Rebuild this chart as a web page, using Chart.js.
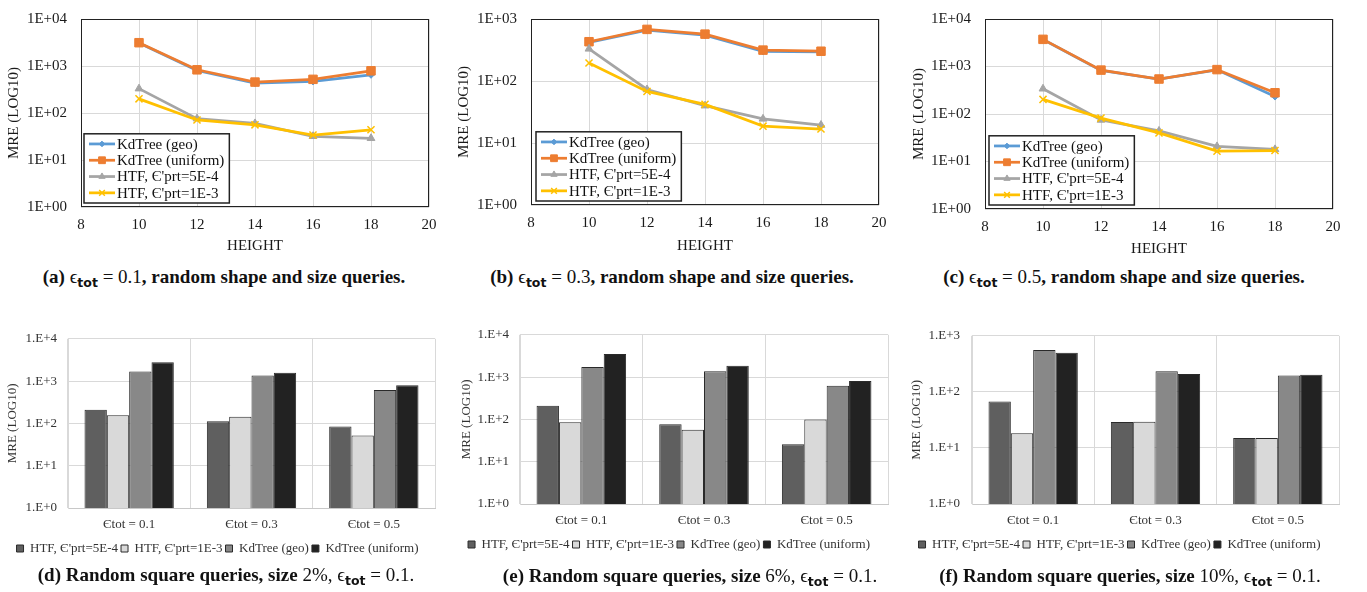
<!DOCTYPE html>
<html>
<head>
<meta charset="utf-8">
<script src="https://cdn.jsdelivr.net/npm/chart.js@4.4.1/dist/chart.umd.min.js"></script>
<style>
  body { margin: 0; background: #fff; width: 1367px; height: 592px; position: relative; overflow: hidden; font-family: "Liberation Serif", serif; }
  canvas { position: absolute; }
  .cap { position: absolute; white-space: nowrap; font-size: 19px; line-height: 22px; color: #111; transform: translateX(-50%); }
  .cap b { font-weight: bold; }
  .cap sub { font-family: "DejaVu Sans", sans-serif; font-weight: bold; font-size: 12.5px; vertical-align: -4px; line-height: 0; }
</style>
</head>
<body>
<canvas id="chartA" width="450" height="266" style="left:0;top:-4px"></canvas>
<canvas id="chartB" width="450" height="266" style="left:450px;top:-4px"></canvas>
<canvas id="chartC" width="467" height="266" style="left:900px;top:-4px"></canvas>
<canvas id="chartD" width="450" height="245" style="left:0;top:320px"></canvas>
<canvas id="chartE" width="450" height="245" style="left:450px;top:316px"></canvas>
<canvas id="chartF" width="467" height="245" style="left:900px;top:316px"></canvas>

<div class="cap" style="left:224px;top:266px"><b>(a) </b>ϵ<sub>tot</sub> = 0.1<b>, random shape and size queries.</b></div>
<div class="cap" style="left:672px;top:266px"><b>(b) </b>ϵ<sub>tot</sub> = 0.3<b>, random shape and size queries.</b></div>
<div class="cap" style="left:1124px;top:266px"><b>(c) </b>ϵ<sub>tot</sub> = 0.5<b>, random shape and size queries.</b></div>
<div class="cap" style="left:226px;top:564px"><b>(d) Random square queries, size </b>2%, ϵ<sub>tot</sub> = 0.1.</div>
<div class="cap" style="left:690px;top:565px"><b>(e) Random square queries, size </b>6%, ϵ<sub>tot</sub> = 0.1.</div>
<div class="cap" style="left:1130px;top:565px"><b>(f) Random square queries, size </b>10%, ϵ<sub>tot</sub> = 0.1.</div>

<script>
// ---- data: line charts (MRE vs tree height) ----
const heightTicks = [10, 12, 14, 16, 18];
const lineSeries = ['KdTree (geo)', 'KdTree (uniform)', "HTF, Є'prt=5E-4", "HTF, Є'prt=1E-3"];

// (a) eps_tot = 0.1
const geoA = [3100, 800, 430, 470, 650];
const uniformA = [3130, 830, 455, 520, 790];
const htf5A = [330, 76, 60, 32, 29];
const htf1A = [200, 71, 56, 34, 44];

// (b) eps_tot = 0.3
const geoB = [420, 660, 550, 300, 296];
const uniformB = [430, 680, 570, 315, 302];
const htf5B = [330, 73, 40, 24.5, 19.5];
const htf1B = [195, 68, 42, 18.7, 16.8];

// (c) eps_tot = 0.5
const geoC = [3700, 830, 540, 850, 233];
const uniformC = [3730, 840, 545, 860, 280];
const htf5C = [340, 75, 44, 20.8, 18];
const htf1C = [203, 82, 40, 16.5, 17];

// ---- data: bar charts (random square queries) ----
const epsLabels = ['Єtot = 0.1', 'Єtot = 0.3', 'Єtot = 0.5'];
const barSeries = ["HTF, Є'prt=5E-4", "HTF, Є'prt=1E-3", 'KdTree (geo)', 'KdTree (uniform)'];

// (d) size 2%
const htf5D = [211, 113, 84];
const htf1D = [156, 143, 52];
const geoD = [1690, 1365, 614];
const uniformD = [2780, 1573, 800];

// (e) size 6%
const htf5E = [209, 77, 25.7];
const htf1E = [86, 57, 99];
const geoE = [1726, 1370, 628];
const uniformE = [3510, 1853, 805];

// (f) size 10%
const htf5F = [67, 29, 15.1];
const htf1F = [18.2, 29.4, 15.1];
const geoF = [557, 234, 195];
const uniformF = [500, 208, 202];

// ---- styles ----
const lineStyles = [
  {color: '#5b9bd5', point: 'rectRot', radius: 3.5, pbw: 1},
  {color: '#ed7d31', point: 'rect', radius: 6, pbw: 1},
  {color: '#a5a5a5', point: 'triangle', radius: 4.5, pbw: 1},
  {color: '#ffc000', point: 'crossRot', radius: 5, pbw: 1.5}
];
const barColors = ['#5f5f5f', '#d9d9d9', '#888888', '#222222'];
const gridColor = '#d9d9d9';

Chart.defaults.font.family = '"Liberation Serif", "Times New Roman", serif';
Chart.defaults.color = '#1a1a1a';

function decadeTicks(max) {
  return function (axis) {
    axis.ticks = [];
    for (let v = 1; v <= max; v *= 10) axis.ticks.push({value: v});
  };
}

// black frame round the plot area of the line charts
const frame = {
  id: 'frame',
  beforeDatasetsDraw(chart) {
    const a = chart.chartArea, ctx = chart.ctx;
    ctx.save();
    ctx.strokeStyle = '#222';
    ctx.lineWidth = 1;
    ctx.strokeRect(a.left + 0.5, a.top + 0.5, a.width - 1, a.height - 1);
    ctx.restore();
  }
};

// boxed legend in the lower left corner of the plot area
const insideLegend = {
  id: 'insideLegend',
  afterDatasetsDraw(chart, args, opts) {
    const ctx = chart.ctx, area = chart.chartArea;
    const sets = chart.data.datasets;
    ctx.save();
    ctx.font = '15px "Liberation Serif"';
    let textW = 0;
    sets.forEach(function (d) { textW = Math.max(textW, ctx.measureText(d.label).width); });
    const w = 33 + textW + 5, h = sets.length * opts.rowHeight + 4;
    const x0 = area.left + opts.dx, y0 = area.bottom - opts.dy - h;
    ctx.fillStyle = '#fff';
    ctx.fillRect(x0, y0, w, h);
    ctx.strokeStyle = '#222';
    ctx.lineWidth = 1.5;
    ctx.strokeRect(x0, y0, w, h);
    sets.forEach(function (d, i) {
      const cy = y0 + 2 + opts.rowHeight * (i + 0.5);
      ctx.strokeStyle = d.borderColor;
      ctx.lineWidth = d.borderWidth;
      ctx.beginPath();
      ctx.moveTo(x0 + 5, cy);
      ctx.lineTo(x0 + 31, cy);
      ctx.stroke();
      ctx.fillStyle = d.pointBackgroundColor;
      ctx.strokeStyle = d.pointBorderColor;
      ctx.lineWidth = d.pointBorderWidth;
      Chart.helpers.drawPoint(ctx, {pointStyle: d.pointStyle, radius: d.pointRadius * 0.8, borderWidth: d.pointBorderWidth, rotation: 0}, x0 + 18, cy);
      ctx.fillStyle = '#111';
      ctx.textBaseline = 'middle';
      ctx.fillText(d.label, x0 + 33, cy + 1);
    });
    ctx.restore();
  }
};

function makeLineChart(id, values, yMax, box) {
  new Chart(document.getElementById(id), {
    type: 'line',
    data: {
      datasets: values.map(function (vals, i) {
        const st = lineStyles[i];
        return {
          label: lineSeries[i],
          data: heightTicks.map(function (h, j) { return {x: h, y: vals[j]}; }),
          borderColor: st.color,
          backgroundColor: st.color,
          pointBorderColor: st.color,
          pointBackgroundColor: st.color,
          borderWidth: 2.75,
          pointStyle: st.point,
          pointRadius: st.radius,
          pointBorderWidth: st.pbw,
          order: 4 - i
        };
      })
    },
    options: {
      responsive: false,
      animation: false,
      layout: {padding: {left: 0, top: box.top, right: box.right, bottom: 0}},
      scales: {
        x: {
          type: 'linear', min: 8, max: 20,
          ticks: {stepSize: 2, padding: 9, font: {size: 15}},
          grid: {color: gridColor, drawTicks: false},
          border: {display: false},
          title: {display: true, text: 'HEIGHT', font: {size: 15}, padding: {top: 0, bottom: box.titleBottom}},
          afterFit: function (s) { s.height = box.xHeight; }
        },
        y: {
          type: 'logarithmic', min: 1, max: yMax,
          afterBuildTicks: decadeTicks(yMax),
          ticks: {
            padding: box.tickPad, font: {size: 15},
            callback: function (v) { return '1E+' + String(Math.round(Math.log10(v))).padStart(2, '0'); }
          },
          grid: {color: gridColor, drawTicks: false},
          border: {display: false},
          title: {display: true, text: 'MRE (LOG10)', font: {size: 15}, padding: {top: box.titlePad, bottom: 0}},
          afterFit: function (s) { s.width = box.yWidth; }
        }
      },
      plugins: {
        legend: {display: false},
        tooltip: {enabled: false},
        insideLegend: {dx: box.legX, dy: 4, rowHeight: 16.3}
      }
    },
    plugins: [frame, insideLegend]
  });
}

function makeBarChart(id, values, yMax, box) {
  new Chart(document.getElementById(id), {
    type: 'bar',
    data: {
      labels: epsLabels,
      datasets: values.map(function (vals, i) {
        return {
          label: barSeries[i],
          data: vals,
          backgroundColor: barColors[i],
          borderColor: '#2a2a2a',
          borderWidth: 1
        };
      })
    },
    options: {
      responsive: false,
      animation: false,
      categoryPercentage: 0.73,
      barPercentage: 1,
      layout: {padding: {left: 0, top: 14, right: box.right, bottom: 0}},
      scales: {
        x: {
          ticks: {padding: 8.5, color: '#333', font: {size: 13}},
          grid: {color: gridColor, drawTicks: false, offset: true},
          border: {color: '#c8c8c8'},
          afterFit: function (s) { s.height = box.xHeight; }
        },
        y: {
          type: 'logarithmic', min: 1, max: yMax,
          afterBuildTicks: decadeTicks(yMax),
          ticks: {
            padding: box.tickPad, color: '#333', font: {size: 13},
            callback: function (v) { return '1.E+' + Math.round(Math.log10(v)); }
          },
          grid: {color: gridColor, drawTicks: false},
          border: {color: gridColor},
          title: {display: true, text: 'MRE (LOG10)', color: '#333', font: {size: 13}, padding: {top: box.titlePad, bottom: 0}},
          afterFit: function (s) { s.width = box.yWidth; }
        }
      },
      plugins: {
        tooltip: {enabled: false},
        legend: {
          position: 'bottom',
          labels: {boxWidth: 7, boxHeight: 7, padding: 3, color: '#333', font: {size: 13}}
        }
      }
    }
  });
}

makeLineChart('chartA', [geoA, uniformA, htf5A, htf1A], 1e4,
  {top: 10, right: 21, yWidth: 81, xHeight: 55, titleBottom: 7, tickPad: 14, titlePad: 5, legX: 3});
makeLineChart('chartB', [geoB, uniformB, htf5B, htf1B], 1e3,
  {top: 10, right: 21, yWidth: 81, xHeight: 57, titleBottom: 7, tickPad: 14, titlePad: 5, legX: 5});
makeLineChart('chartC', [geoC, uniformC, htf5C, htf1C], 1e4,
  {top: 14, right: 34, yWidth: 85, xHeight: 53, titleBottom: 4, tickPad: 14, titlePad: 10, legX: 4});

makeBarChart('chartD', [htf5D, htf1D, geoD, uniformD], 1e4,
  {right: 15, yWidth: 68, xHeight: 31, tickPad: 11, titlePad: 5});
makeBarChart('chartE', [htf5E, htf1E, geoE, uniformE], 1e4,
  {right: 12, yWidth: 70, xHeight: 31, tickPad: 11, titlePad: 9});
makeBarChart('chartF', [htf5F, htf1F, geoF, uniformF], 1e3,
  {right: 28, yWidth: 72, xHeight: 31, tickPad: 12, titlePad: 9});
</script>
</body>
</html>
